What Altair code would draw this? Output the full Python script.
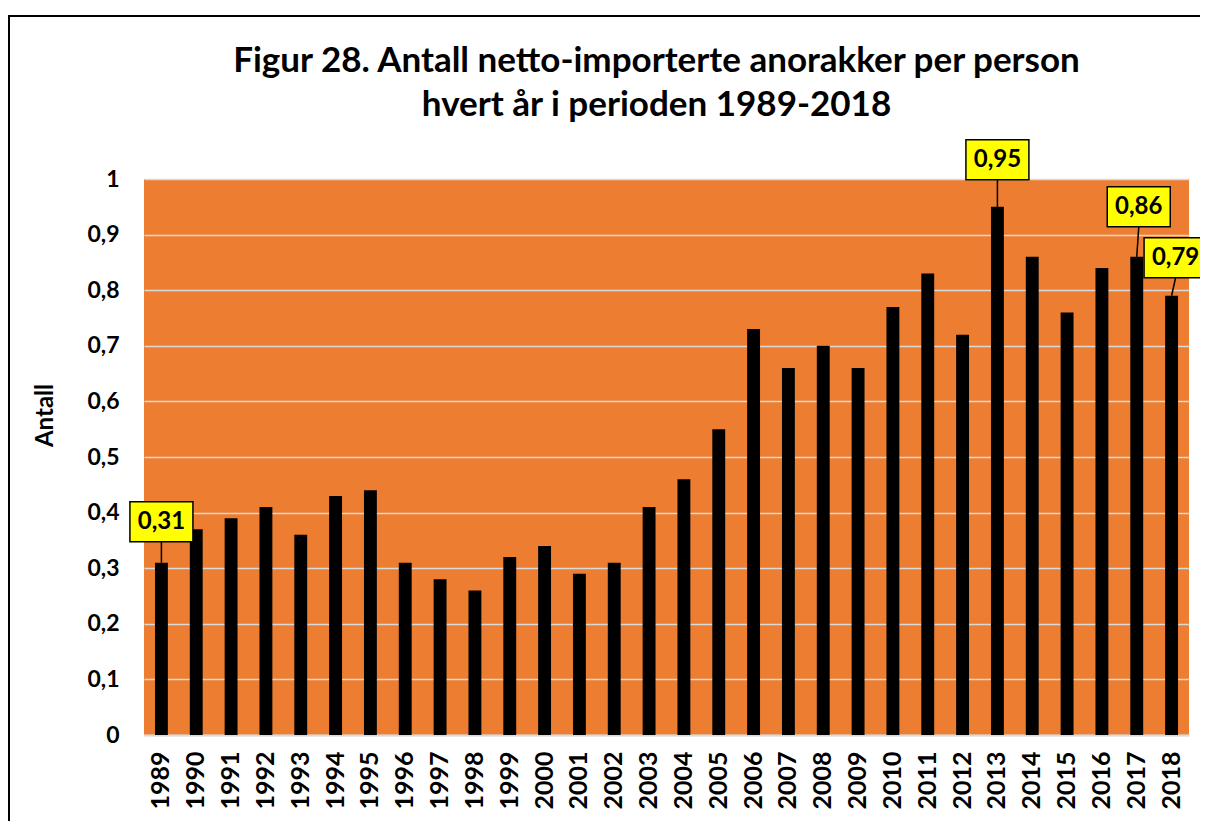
import altair as alt
import pandas as pd

years = [str(y) for y in range(1989, 2019)]
values = [0.31, 0.37, 0.39, 0.41, 0.36, 0.43, 0.44, 0.31, 0.28, 0.26,
          0.32, 0.34, 0.29, 0.31, 0.41, 0.46, 0.55, 0.73, 0.66, 0.70,
          0.66, 0.77, 0.83, 0.72, 0.95, 0.86, 0.76, 0.84, 0.86, 0.79]
callout_years = ["1989", "2013", "2017", "2018"]
y_ticks = [0, 0.1, 0.2, 0.3, 0.4, 0.5, 0.6, 0.7, 0.8, 0.9, 1.0]
title_lines = ["Figur 28. Antall netto-importerte anorakker per person",
               "hvert år i perioden 1989-2018"]

df = pd.DataFrame({"year": years, "value": values})

FONT = "Lato"
ORANGE = "#ED7D31"
GRID = "#D9D9D9"

# style: callout box offsets (px) relative to bar top
offsets = {"1989": (0, -41), "2013": (0, -47), "2017": (2, -50), "2018": (4, -38)}
BOX_H = 40

x_enc = alt.X("year:N", sort=years,
              scale=alt.Scale(paddingInner=0.63, paddingOuter=0.315),
              axis=alt.Axis(title=None, labelAngle=-90, labelAlign="right",
                            labelBaseline="middle", labelFontSize=25,
                            labelFont=FONT, labelFontWeight="bold",
                            labelColor="black", labelPadding=16, ticks=False,
                            domainColor=GRID, domainWidth=2))
y_enc = alt.Y("value:Q", scale=alt.Scale(domain=[0, 1], nice=False),
              axis=alt.Axis(values=y_ticks, title="Antall", titleFont=FONT,
                            titleFontSize=24, titleFontWeight="bold",
                            titleColor="black", titleAngle=-90,
                            titleX=-99, titleY=236, titleAlign="center",
                            titleBaseline="middle",
                            labelExpr="datum.value == 0 ? '0' : datum.value == 1 ? '1' : replace(format(datum.value, '.1f'), '.', ',')",
                            labelFont=FONT, labelFontSize=23, labelFontWeight="bold",
                            labelColor="black", labelPadding=25, ticks=False,
                            domain=False, gridColor=GRID, gridWidth=1.5))

bars = alt.Chart(df).mark_bar(color="black").encode(x=x_enc, y=y_enc)

layers = [bars]
for yr in callout_years:
    dx, dy = offsets[yr]
    base = alt.Chart(df).transform_filter(alt.datum.year == yr).transform_calculate(
        label="replace(format(datum.value, '.2f'), '.', ',')")
    leader = base.mark_rule(color="black", strokeWidth=1.5,
                            x2Offset=dx, y2Offset=dy + BOX_H / 2).encode(
        x=alt.X("year:N", sort=years), x2="year:N",
        y="value:Q", y2="value:Q")
    box = base.mark_point(shape="M-1,-0.635L1,-0.635L1,0.635L-1,0.635Z",
                          size=3969, filled=True, fill="#FFFF00", stroke="black",
                          strokeWidth=1.5, opacity=1,
                          xOffset=dx, yOffset=dy).encode(
        x=alt.X("year:N", sort=years), y="value:Q")
    txt = base.mark_text(font=FONT, fontSize=24, fontWeight="bold", color="black",
                         dx=dx, dy=dy, baseline="middle", align="center").encode(
        x=alt.X("year:N", sort=years), y="value:Q", text="label:N")
    layers += [leader, box, txt]

frame = alt.Chart(alt.Data(values=[{"a": 1}])).mark_rect(
    fill=None, stroke="black", strokeWidth=2, clip=False).encode(
    x=alt.value(-135), y=alt.value(-163), x2=alt.value(1200), y2=alt.value(800))
layers.append(frame)

chart = alt.layer(*layers).properties(
    width=1045, height=556,
    autosize=alt.AutoSizeParams(type="none"),
    padding={"left": 136, "top": 171, "right": 11, "bottom": 86},
    title=alt.TitleParams(title_lines, font=FONT, fontSize=35, fontWeight="bold",
                          color="black", anchor="middle", frame="group", dx=-10,
                          offset=-108, lineHeight=44),
    background="white",
).configure_view(fill=ORANGE, stroke=None)

chart.save("out.html", embed_options={"renderer": "svg", "actions": False})
